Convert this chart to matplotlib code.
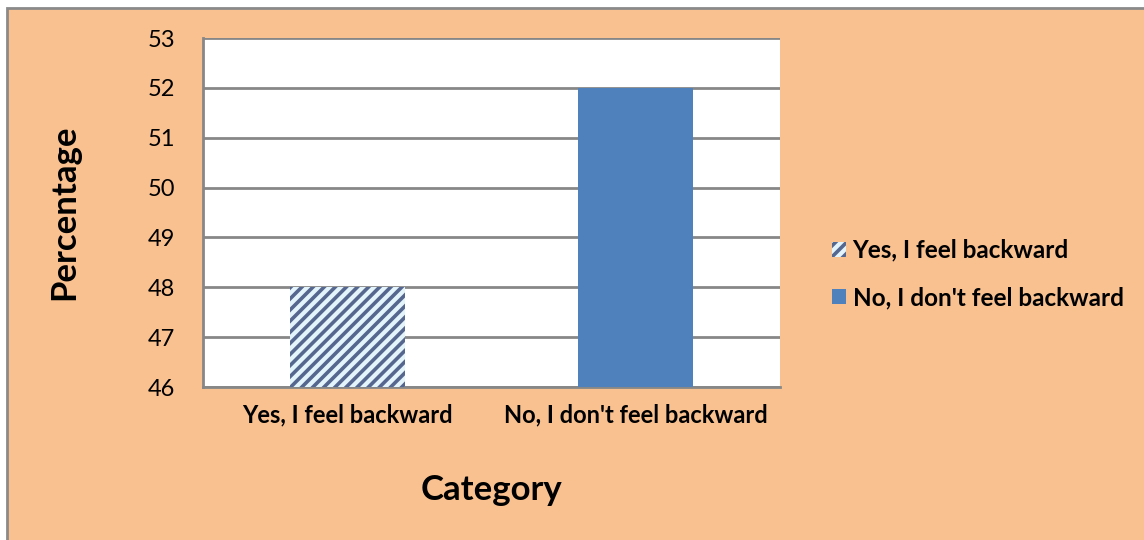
import matplotlib.pyplot as plt
from matplotlib.patches import Rectangle

categories = ["Yes, I feel backward", "No, I don't feel backward"]
percentages = [48, 52]
yticks = [46, 47, 48, 49, 50, 51, 52, 53]

plt.rcParams['font.family'] = ['Lato', 'DejaVu Sans']
plt.rcParams['hatch.linewidth'] = 2.6

fig = plt.figure(figsize=(11.44, 5.40), dpi=100)
fig.patch.set_facecolor('white')

# orange chart area with grey outline
fig.patches.append(Rectangle((7 / 1144, -0.01), 1.0, 1 - 8 / 540 + 0.01,
                             transform=fig.transFigure, facecolor='#F9C190',
                             edgecolor='#8a8a8a', linewidth=2, zorder=-10))

ax = fig.add_axes([203 / 1144, 1 - 387 / 540, 577 / 1144, 349 / 540])
ax.set_facecolor('white')

x = [0, 1]
bars = ax.bar(x, percentages, width=0.4, bottom=0, zorder=3)
bars[0].set_facecolor('#e4f4fb')
bars[0].set_edgecolor('#56678f')
bars[0].set_hatch('///')
bars[0].set_linewidth(0)
bars[0].set_label(categories[0])
bars[1].set_facecolor('#4f81bd')
bars[1].set_label(categories[1])

ax.set_xlim(-0.5, 1.5)
ax.set_ylim(46, 53)
ax.set_yticks(yticks)
ax.set_yticklabels([str(v) for v in yticks], fontsize=17)
ax.set_xticks(x)
ax.set_xticklabels(categories, fontsize=17, fontweight='bold')
ax.tick_params(axis='x', length=0, pad=12)
ax.tick_params(axis='y', length=0, pad=20)
ax.yaxis.grid(True, color='#878787', linewidth=2, zorder=0)
ax.set_axisbelow(True)

for side in ['top', 'right']:
    ax.spines[side].set_visible(False)
for side in ['left', 'bottom']:
    ax.spines[side].set_color('#878787')
    ax.spines[side].set_linewidth(2)

fig.text(492 / 1144, 1 - 490 / 540, "Category", fontsize=25, fontweight='bold',
         ha='center', va='center')
fig.text(64 / 1144, 1 - 212 / 540, "Percentage", fontsize=25, fontweight='bold',
         ha='center', va='center', rotation=90)

fig.legend(handles=[bars[0], bars[1]], loc='center left',
           bbox_to_anchor=(810 / 1144, 1 - 274 / 540), frameon=False,
           prop={'size': 17.5, 'weight': 'bold'}, handlelength=0.6,
           handleheight=0.6, handletextpad=0.25, labelspacing=1.0)

fig.savefig('out.png', dpi=100)
